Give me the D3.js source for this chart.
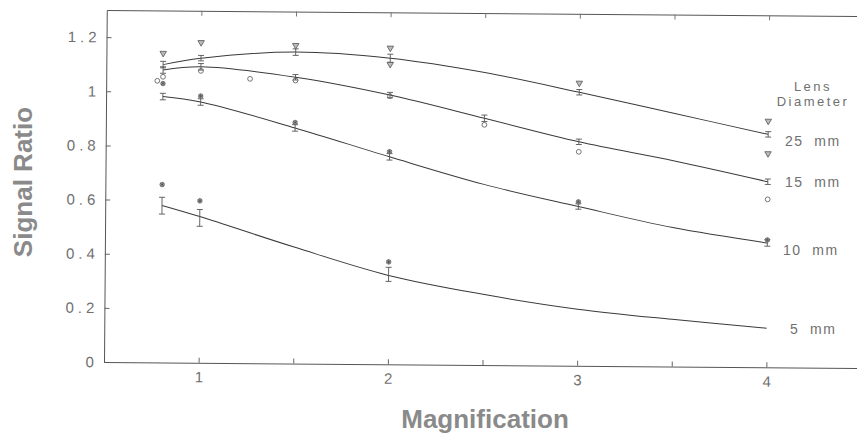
<!DOCTYPE html>
<html><head><meta charset="utf-8">
<script src="https://cdn.jsdelivr.net/npm/d3@7"></script>
<style>body{margin:0;background:#fff;} svg{display:block;}</style>
</head><body>
<svg id="chart" width="857" height="435"></svg>
<script>
// ---- data ----
const fitX = [0.8, 1, 1.5, 2, 2.5, 3, 3.5, 4];
const fit25 = [1.10, 1.125, 1.15, 1.13, 1.08, 1.01, 0.935, 0.86];
const fit15 = [1.08, 1.093, 1.057, 0.994, 0.911, 0.827, 0.76, 0.685];
const fit10 = [0.982, 0.963, 0.87, 0.766, 0.667, 0.588, 0.513, 0.459];
const fit5  = [0.58, 0.54, 0.43, 0.328, 0.261, 0.209, 0.174, 0.144];

const err25X = [0.8, 1, 1.5, 2, 3, 4];
const err25  = [1.10, 1.125, 1.15, 1.13, 1.01, 0.86];
const sd25   = [0.012, 0.01, 0.012, 0.015, 0.01, 0.01];
const err15X = [0.8, 1, 1.5, 2, 2.5, 3, 4];
const err15  = [1.08, 1.093, 1.057, 0.994, 0.911, 0.827, 0.685];
const sd15   = [0.012, 0.012, 0.01, 0.01, 0.012, 0.01, 0.01];
const err10X = [0.8, 1, 1.5, 2, 3, 4];
const err10  = [0.982, 0.963, 0.87, 0.766, 0.588, 0.459];
const sd10   = [0.012, 0.012, 0.012, 0.012, 0.01, 0.012];
const err5X  = [0.8, 1, 2];
const err5   = [0.579, 0.535, 0.332];
const sd5    = [0.031, 0.031, 0.026];

const tri25X = [0.8, 1, 1.5, 2, 2, 3, 4, 4];
const tri25Y = [1.142, 1.183, 1.175, 1.168, 1.108, 1.044, 0.909, 0.789];
const circ15X = [0.77, 0.8, 1, 1.26, 1.5, 2, 2.5, 3, 4];
const circ15Y = [1.04, 1.055, 1.078, 1.05, 1.045, 0.99, 0.887, 0.79, 0.62];
const ast10X = [0.8, 1, 1.5, 2, 3, 4];
const ast10Y = [1.03, 0.985, 0.89, 0.785, 0.605, 0.47];
const ast5X = [0.8, 1, 2];
const ast5Y = [0.657, 0.598, 0.378];

const yTicks = [0, 0.2, 0.4, 0.6, 0.8, 1, 1.2];
const xTicks = [1, 1.5, 2, 2.5, 3, 3.5, 4];
const xLabels = [1, 2, 3, 4];
const seriesLabels = ["25  mm", "15  mm", "10  mm", "5  mm"];

// ---- drawing ----
const svg = d3.select("#chart");
const x = d3.scaleLinear().domain([0.5, 4.5]).range([104, 861]);
const y = d3.scaleLinear().domain([0, 1.3]).range([362, 10]);

const ink = "#3a3a3a";
const g = svg.append("g").attr("transform", "rotate(0.45,103,362)");

// y axis
const yAxis = d3.axisLeft(y).tickValues(yTicks).tickSizeInner(-5).tickSizeOuter(0).tickPadding(6)
  .tickFormat(d => d3.format("~g")(d));
const ya = g.append("g").attr("transform", `translate(${x(0.5)},0)`).call(yAxis);
ya.select(".domain").attr("stroke", "#555");
ya.selectAll(".tick line").attr("stroke", "#666");
ya.selectAll("text").attr("fill", "#707070").style("font-family", "Liberation Sans, Arial, sans-serif")
  .style("font-size", "15px").style("letter-spacing", "4px");

// bottom axis
const xAxis = d3.axisBottom(x).tickValues(xTicks).tickSizeInner(-5).tickSizeOuter(0).tickPadding(9)
  .tickFormat(d => xLabels.includes(d) ? String(d) : "");
const xa = g.append("g").attr("transform", `translate(0,${y(0)})`).call(xAxis);
xa.select(".domain").attr("stroke", "#555");
xa.selectAll(".tick line").attr("stroke", "#666");
xa.selectAll("text").attr("fill", "#707070").style("font-family", "Liberation Sans, Arial, sans-serif")
  .style("font-size", "15px");

// top axis
const tAxis = d3.axisTop(x).tickValues(xTicks).tickSizeInner(-5).tickSizeOuter(0).tickFormat("");
const ta = g.append("g").attr("transform", `translate(0,${y(1.3)})`).call(tAxis);
ta.select(".domain").attr("stroke", "#555");
ta.selectAll(".tick line").attr("stroke", "#777");

// curves
const line = d3.line().x(d => x(d[0])).y(d => y(d[1])).curve(d3.curveCatmullRom.alpha(0.5));
[fit25, fit15, fit10, fit5].forEach(arr => {
  g.append("path").datum(fitX.map((v, i) => [v, arr[i]]))
    .attr("d", line).attr("fill", "none").attr("stroke", ink).attr("stroke-width", 1);
});

// error bars
function errBars(xs, ms, sds) {
  const data = xs.map((v, i) => ({x: v, m: ms[i], s: sds[i]}));
  const eg = g.append("g").attr("stroke", "#555").attr("stroke-width", 0.9);
  eg.selectAll(".v").data(data).join("line")
    .attr("x1", d => x(d.x)).attr("x2", d => x(d.x))
    .attr("y1", d => y(d.m - d.s)).attr("y2", d => y(d.m + d.s));
  eg.selectAll(".t").data(data).join("line")
    .attr("x1", d => x(d.x) - 3).attr("x2", d => x(d.x) + 3)
    .attr("y1", d => y(d.m + d.s)).attr("y2", d => y(d.m + d.s));
  eg.selectAll(".b").data(data).join("line")
    .attr("x1", d => x(d.x) - 3).attr("x2", d => x(d.x) + 3)
    .attr("y1", d => y(d.m - d.s)).attr("y2", d => y(d.m - d.s));
}
errBars(err25X, err25, sd25);
errBars(err15X, err15, sd15);
errBars(err10X, err10, sd10);
errBars(err5X, err5, sd5);

// markers
const tri = d3.symbol().type(d3.symbolTriangle).size(18)();
g.append("g").selectAll("path").data(tri25X.map((v, i) => [v, tri25Y[i]])).join("path")
  .attr("d", tri).attr("transform", d => `translate(${x(d[0])},${y(d[1])}) rotate(180)`)
  .attr("fill", "#bbb").attr("stroke", "#555").attr("stroke-width", 0.8);
g.append("g").selectAll("circle").data(circ15X.map((v, i) => [v, circ15Y[i]])).join("circle")
  .attr("cx", d => x(d[0])).attr("cy", d => y(d[1])).attr("r", 2.4)
  .attr("fill", "none").attr("stroke", "#555").attr("stroke-width", 0.8);
const ast = d3.symbol().type(d3.symbolAsterisk).size(14)();
[[ast10X, ast10Y], [ast5X, ast5Y]].forEach(([xs, ys]) => {
  const data = xs.map((v, i) => [v, ys[i]]);
  const ag = g.append("g");
  ag.selectAll("circle").data(data).join("circle")
    .attr("cx", d => x(d[0])).attr("cy", d => y(d[1])).attr("r", 2.3)
    .attr("fill", "#aaa").attr("stroke", "#666").attr("stroke-width", 0.7);
  ag.selectAll("path").data(data).join("path").attr("d", ast)
    .attr("transform", d => `translate(${x(d[0])},${y(d[1])})`)
    .attr("stroke", "#444").attr("stroke-width", 0.6).attr("fill", "none");
});

// annotation text
const tf = "Liberation Sans, Arial, sans-serif";
const ann = svg.append("g").attr("fill", "#707070").style("font-family", tf);
ann.append("text").attr("x", 813).attr("y", 91).attr("text-anchor", "middle")
  .style("font-size", "13px").style("letter-spacing", "2.5px").text("Lens");
ann.append("text").attr("x", 813).attr("y", 106).attr("text-anchor", "middle")
  .style("font-size", "13px").style("letter-spacing", "2.5px").text("Diameter");
const labPos = [[785, 146], [785, 187], [783, 255], [790, 334]];
seriesLabels.forEach((t, i) => {
  ann.append("text").attr("x", labPos[i][0]).attr("y", labPos[i][1])
    .style("font-size", "14px").style("letter-spacing", "1.5px").style("white-space", "pre")
    .attr("xml:space", "preserve").text(t);
});

// axis titles
svg.append("text").attr("transform", "translate(32,182) rotate(-90)").attr("text-anchor", "middle")
  .attr("fill", "#8a8a8a").style("font-family", tf).style("font-weight", "bold").style("font-size", "26px")
  .text("Signal Ratio");
svg.append("text").attr("x", 485).attr("y", 428).attr("text-anchor", "middle")
  .attr("fill", "#8a8a8a").style("font-family", tf).style("font-weight", "bold").style("font-size", "26px")
  .text("Magnification");
</script>
</body></html>
